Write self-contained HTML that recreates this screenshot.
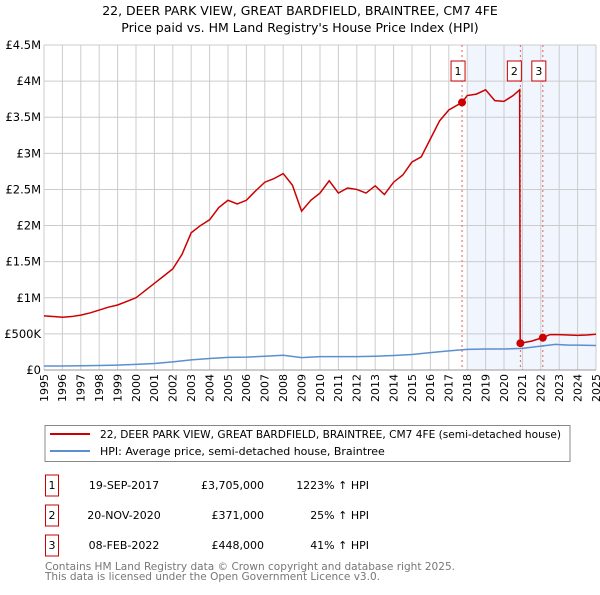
<!DOCTYPE html>
<html><head><meta charset="utf-8"><style>
body{margin:0;background:#fff;font-family:"Liberation Sans","DejaVu Sans",sans-serif;}
svg text{font-family:"DejaVu Sans","Liberation Sans",sans-serif;}
</style></head><body>
<svg id="c" width="600" height="590" xmlns="http://www.w3.org/2000/svg">
<text x="300" y="15" text-anchor="middle" font-size="12.5">22, DEER PARK VIEW, GREAT BARDFIELD, BRAINTREE, CM7 4FE</text>
<text x="300" y="32" text-anchor="middle" font-size="12.5">Price paid vs. HM Land Registry's House Price Index (HPI)</text>
<g id="plot"></g>
<rect x="45" y="425.5" width="525" height="36" fill="#fff" stroke="#888"/>
<line x1="50" y1="434" x2="90" y2="434" stroke="#cc0000" stroke-width="2"/>
<text x="100" y="438" font-size="11" textLength="461" lengthAdjust="spacingAndGlyphs">22, DEER PARK VIEW, GREAT BARDFIELD, BRAINTREE, CM7 4FE (semi-detached house)</text>
<line x1="50" y1="451" x2="90" y2="451" stroke="#5b8fd0" stroke-width="2"/>
<text x="100" y="455" font-size="11">HPI: Average price, semi-detached house, Braintree</text>
<g id="tbl" font-size="11"></g>
<text x="45" y="570" font-size="11" fill="#777" textLength="410" lengthAdjust="spacingAndGlyphs">Contains HM Land Registry data © Crown copyright and database right 2025.</text>
<text x="45" y="580" font-size="11" fill="#777" textLength="335" lengthAdjust="spacingAndGlyphs">This data is licensed under the Open Government Licence v3.0.</text>
</svg>
<script>
const yearTicks=[1995,1996,1997,1998,1999,2000,2001,2002,2003,2004,2005,2006,2007,2008,2009,2010,2011,2012,2013,2014,2015,2016,2017,2018,2019,2020,2021,2022,2023,2024,2025];
const valueTicks=[0,500000,1000000,1500000,2000000,2500000,3000000,3500000,4000000,4500000];
const valueTickLabels=["£0","£500K","£1M","£1.5M","£2M","£2.5M","£3M","£3.5M","£4M","£4.5M"];
const propYears=[1995,1995.5,1996,1996.5,1997,1997.5,1998,1998.5,1999,1999.5,2000,2000.5,2001,2001.5,2002,2002.5,2003,2003.5,2004,2004.5,2005,2005.5,2006,2006.5,2007,2007.5,2008,2008.5,2009,2009.5,2010,2010.5,2011,2011.5,2012,2012.5,2013,2013.5,2014,2014.5,2015,2015.5,2016,2016.5,2017,2017.72,2018,2018.5,2019,2019.5,2020,2020.5,2020.85,2020.88,2021.5,2022.1,2022.5,2023,2023.5,2024,2024.5,2025];
const propValues=[750000,740000,730000,740000,760000,790000,830000,870000,900000,950000,1000000,1100000,1200000,1300000,1400000,1600000,1900000,2000000,2080000,2250000,2350000,2300000,2350000,2480000,2600000,2650000,2720000,2560000,2200000,2350000,2450000,2620000,2450000,2520000,2500000,2450000,2550000,2430000,2600000,2700000,2880000,2950000,3200000,3450000,3600000,3705000,3800000,3820000,3880000,3730000,3720000,3800000,3880000,371000,400000,448000,490000,490000,485000,480000,485000,495000];
const hpiYears=[1995,1996,1997,1998,1999,2000,2001,2002,2003,2004,2005,2006,2007,2008,2009,2010,2011,2012,2013,2014,2015,2016,2017,2018,2019,2020,2021,2022,2022.8,2023.5,2024,2025];
const hpiValues=[56000,55000,58000,63000,68000,78000,90000,112000,140000,160000,175000,178000,190000,205000,172000,185000,185000,185000,190000,200000,215000,240000,265000,285000,290000,290000,300000,330000,355000,345000,345000,340000];
const sales=[{n:"1",y:2017.72,v:3705000,d:"19-SEP-2017",p:"£3,705,000",h:"1223% ↑ HPI"},{n:"2",y:2020.89,v:371000,d:"20-NOV-2020",p:"£371,000",h:"25% ↑ HPI"},{n:"3",y:2022.11,v:448000,d:"08-FEB-2022",p:"£448,000",h:"41% ↑ HPI"}];
const badgeOffsets=[-11,-13,-11];
const X0=44,X1=596,Y0=370,Y1=45;
const xs=y=>X0+(y-1995)/30*(X1-X0);
const ys=v=>Y0-v/4500000*(Y0-Y1);
const NS="http://www.w3.org/2000/svg";
const g=document.getElementById('plot');
function mk(t,a,p){const e=document.createElementNS(NS,t);for(const k in a)e.setAttribute(k,a[k]);(p||g).appendChild(e);return e;}
mk('rect',{x:X0,y:Y1,width:X1-X0,height:Y0-Y1,fill:'#fff'});
const sh=mk('rect',{x:xs(2017.72)+5,y:Y1,width:X1-xs(2017.72)-5,height:Y0-Y1,fill:'#eef3fc',opacity:0.8});


yearTicks.forEach(t=>{const l=mk('line',{x1:xs(t),x2:xs(t),y1:Y1,y2:Y0,stroke:'#ccc','stroke-width':1});


const tx=mk('text',{x:xs(t),y:Y0+4,'font-size':11,'text-anchor':'end',transform:`rotate(-90 ${xs(t)} ${Y0+4})`,dy:'0.35em'});tx.textContent=t;

});
valueTicks.forEach((t,i)=>{const l=mk('line',{x1:X0,x2:X1,y1:ys(t),y2:ys(t),stroke:'#ccc','stroke-width':1});


const tx=mk('text',{x:X0-3,y:ys(t)+4,'font-size':11.5,'text-anchor':'end'});tx.textContent=valueTickLabels[i];

});
mk('line',{x1:X0,x2:X1,y1:Y0,y2:Y0,stroke:'#999'});
sales.forEach(s=>{const l=mk('line',{x1:xs(s.y),x2:xs(s.y),y1:Y1,y2:Y0,stroke:'#e06060','stroke-dasharray':'2,3','stroke-width':1});

});
const hp=mk('polyline',{points:hpiYears.map((y,i)=>xs(y)+','+ys(hpiValues[i])).join(' '),fill:'none',stroke:'#5b8fd0','stroke-width':1.5});


const pp=mk('polyline',{points:propYears.map((y,i)=>xs(y)+','+ys(propValues[i])).join(' '),fill:'none',stroke:'#cc0000','stroke-width':1.5});


sales.forEach((s,i)=>{const c=mk('circle',{cx:xs(s.y),cy:ys(s.v),r:4,fill:'#cc0000'});


const bx=xs(s.y)+badgeOffsets[i];
const b=mk('rect',{x:bx,y:61,width:14,height:20,fill:'#fff',stroke:'#cc0000'});


const t=mk('text',{x:bx+7,y:75,'font-size':11,'text-anchor':'middle'});t.textContent=s.n;});
const tb=document.getElementById('tbl');
sales.forEach((s,i)=>{const y=485+i*30;
const b=mk('rect',{x:45.5,y:y-10,width:13,height:21,fill:'#fff',stroke:'#cc0000'},tb);


const a=mk('text',{x:52,y:y+4,'text-anchor':'middle'},tb);a.textContent=s.n;
const d=mk('text',{x:124,y:y+4,'text-anchor':'middle'},tb);d.textContent=s.d;


const p=mk('text',{x:264,y:y+4,'text-anchor':'end'},tb);p.textContent=s.p;


const h=mk('text',{x:369,y:y+4,'text-anchor':'end'},tb);h.textContent=s.h;

});
</script>
</body></html>
